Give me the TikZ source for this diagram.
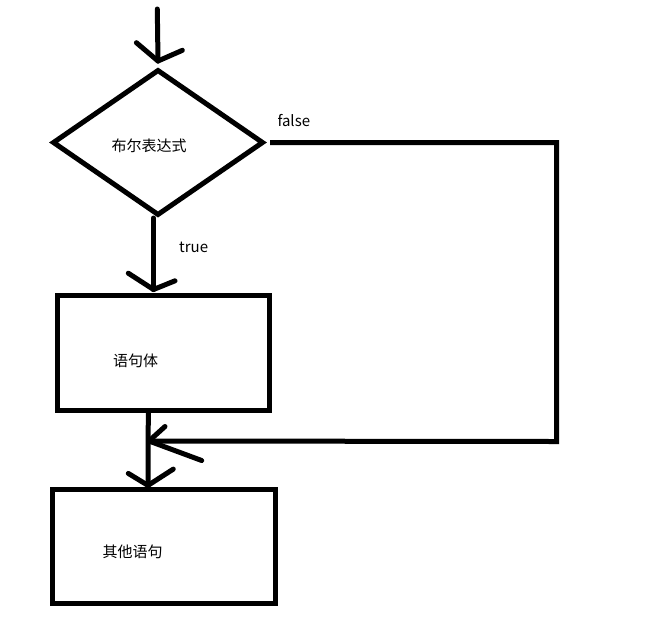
\documentclass[tikz,border=0pt]{standalone}
\usepackage{fontspec}
\setmainfont{Noto Sans CJK SC}
\usetikzlibrary{shapes.geometric}

\tikzset{
  flow/.style={line width=5pt},
  box/.style={draw, rectangle, flow, inner sep=0pt},
  barb/.style={flow, line cap=round, line join=round},
  txt/.style={inner sep=0pt, font=\fontsize{15}{18}\selectfont},
}

\begin{document}
\begin{tikzpicture}[x=1pt, y=-1pt]
        \useasboundingbox[fill=white] (0,0) rectangle (655,627);

        \node[draw, diamond, flow, inner sep=0pt, minimum width=211pt, minimum height=146pt] (cond) at (158,142.5) {};
        \node[box, minimum width=212pt, minimum height=115pt] (body) at (163.3,352.7) {};
        \node[box, minimum width=223pt, minimum height=114pt] (rest) at (164,546.4) {};

        \node[txt] (condtext) at (149,146) {布尔表达式};
        \node[txt] (bodytext) at (135.5,361) {语句体};
        \node[txt] (resttext) at (132.5,551.5) {其他语句};
        \node[txt, anchor=base west] (falselabel) at (277.3,126.7) {false};
        \node[txt, anchor=base west] (truelabel) at (179,252.3) {true};

        \coordinate (entry) at (157.3,9);
        \coordinate (fturn) at (556.5,142.5);
        \coordinate (fback) at (556.5,441.5);
        \coordinate (join) at (149,441);

        % entry
        \draw[barb] (entry) -- ([yshift=6pt]cond.north) coordinate (tip0);
        \draw[barb] (tip0) -- ++(-21.6,-18.3);
        \draw[barb] (tip0) -- ++(24.4,-10.7);

        % true
        \draw[barb] ([xshift=-4.5pt]cond.south) -- ++(0,71.5) coordinate (tip1);
        \draw[barb] (tip1) -- ++(-25.2,-16.3);
        \draw[barb] (tip1) -- ++(21.5,-8.7);

        % false
        \draw[flow] ([xshift=4pt]cond.east) -- (fturn) -- (fback) -- (join);
        \draw[barb] (join) -- ++(16,-14.5);
        \draw[barb] (join) -- ++(52.7,19.5);

        \draw[barb] ([xshift=-15pt]body.south) -- ([xshift=-16pt,yshift=1.5pt]rest.north) coordinate (tip2);
        \draw[barb] (tip2) -- ++(-19.7,-12);
        \draw[barb] (tip2) -- ++(25.3,-16.3);
\end{tikzpicture}
\end{document}
